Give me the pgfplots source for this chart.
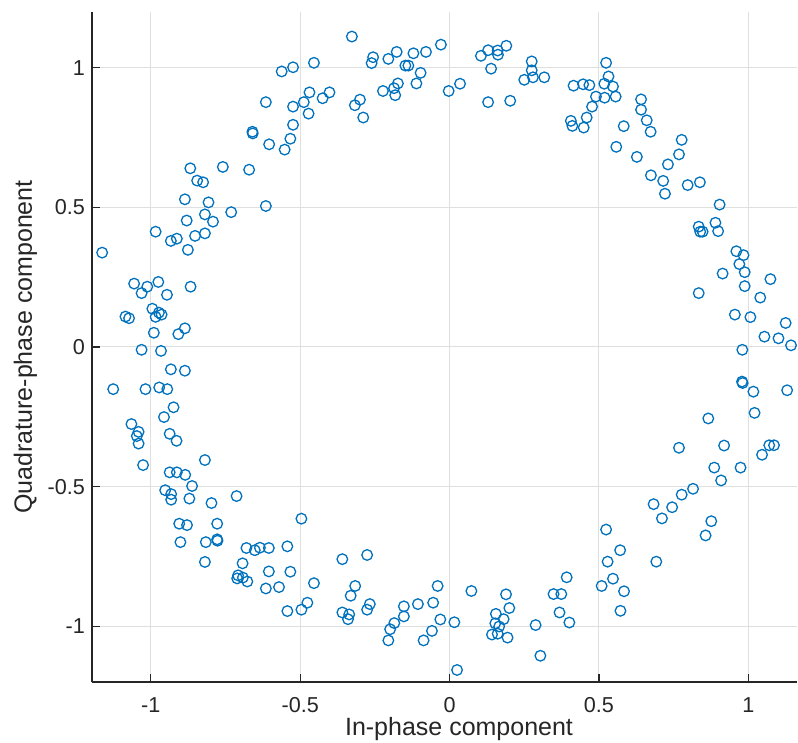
\documentclass[border=0pt]{standalone}
\usepackage{fontspec}
\setmainfont{Liberation Sans}
\usepackage{pgfplots}
\pgfplotsset{compat=1.18}
\definecolor{mblue}{HTML}{0072BD}
\definecolor{axgray}{HTML}{262626}
\definecolor{gridgray}{HTML}{DFDFDF}

\pgfplotstableread{
x y
-0.615 0.877
-0.660 0.771
-0.659 0.765
-0.604 0.726
-0.868 0.640
-0.759 0.645
-0.671 0.635
-0.845 0.596
-0.825 0.590
-0.886 0.529
-0.807 0.518
-0.615 0.505
-0.819 0.475
-0.731 0.483
-0.880 0.453
-0.792 0.449
-0.984 0.413
-0.913 0.388
-0.933 0.380
-0.852 0.398
-0.819 0.407
-0.876 0.348
-1.163 0.338
-1.056 0.227
-1.012 0.216
-0.975 0.233
-1.031 0.193
-0.946 0.187
-0.867 0.216
-0.995 0.137
-0.973 0.123
-0.964 0.116
-0.984 0.108
-1.085 0.109
-1.073 0.103
-0.886 0.067
-0.908 0.046
-0.990 0.051
-1.031 -0.010
-0.966 -0.014
-0.933 -0.080
-0.886 -0.085
-1.126 -0.151
-1.018 -0.151
-0.972 -0.145
-0.945 -0.151
-0.924 -0.216
-0.956 -0.251
-1.065 -0.276
-1.041 -0.304
-1.047 -0.319
-1.041 -0.346
-0.937 -0.311
-0.914 -0.336
-0.819 -0.405
-1.026 -0.423
-0.937 -0.449
-0.913 -0.449
-0.885 -0.458
-0.862 -0.498
-0.952 -0.513
-0.932 -0.527
-0.932 -0.547
-0.871 -0.543
-0.797 -0.559
-0.713 -0.534
-0.905 -0.633
-0.879 -0.638
-0.778 -0.633
-0.901 -0.699
-0.816 -0.699
-0.778 -0.689
-0.777 -0.694
-0.819 -0.770
-0.680 -0.720
-0.652 -0.728
-0.635 -0.719
-0.605 -0.720
-0.693 -0.775
-0.708 -0.818
-0.711 -0.829
-0.692 -0.826
-0.677 -0.840
-0.605 -0.804
-0.615 -0.865
-0.496 -0.615
-0.543 -0.714
-0.533 -0.805
-0.571 -0.860
-0.543 -0.946
-0.496 -0.941
-0.476 -0.916
-0.454 -0.846
-0.359 -0.760
-0.276 -0.745
-0.316 -0.856
-0.331 -0.891
-0.359 -0.951
-0.336 -0.958
-0.340 -0.975
-0.267 -0.921
-0.276 -0.941
-0.153 -0.929
-0.153 -0.965
-0.185 -0.989
-0.199 -1.011
-0.205 -1.051
-0.106 -0.921
-0.055 -0.916
-0.040 -0.856
-0.031 -0.976
-0.059 -1.017
-0.087 -1.051
0.016 -0.986
0.073 -0.874
0.025 -1.157
0.155 -0.956
0.181 -0.975
0.153 -0.990
0.166 -1.001
0.142 -1.030
0.161 -1.027
0.194 -1.041
0.189 -0.886
0.200 -0.935
0.288 -0.996
0.304 -1.106
0.348 -0.885
0.374 -0.885
0.392 -0.825
0.368 -0.951
0.401 -0.987
0.524 -0.654
0.571 -0.728
0.529 -0.769
0.547 -0.830
0.509 -0.856
0.584 -0.875
0.572 -0.945
0.886 -0.432
0.974 -0.432
0.909 -0.478
0.815 -0.508
0.777 -0.529
0.683 -0.563
0.745 -0.574
0.711 -0.614
0.876 -0.624
0.857 -0.675
0.692 -0.769
0.960 0.343
0.984 0.329
0.970 0.297
0.988 0.268
0.914 0.263
1.074 0.243
0.988 0.218
1.040 0.177
0.834 0.193
0.955 0.116
1.007 0.107
1.125 0.086
1.054 0.037
1.101 0.031
1.143 0.006
0.980 -0.010
0.979 -0.124
0.981 -0.129
1.017 -0.160
1.130 -0.155
1.021 -0.236
0.866 -0.256
0.768 -0.361
0.919 -0.353
1.070 -0.352
1.086 -0.352
1.046 -0.386
0.641 0.887
0.641 0.850
0.660 0.812
0.673 0.771
0.583 0.791
0.777 0.742
0.768 0.690
0.731 0.654
0.627 0.681
0.674 0.615
0.715 0.595
0.721 0.549
0.797 0.580
0.838 0.590
0.904 0.510
0.890 0.445
0.834 0.431
0.839 0.413
0.847 0.413
0.899 0.415
-0.327 1.112
-0.562 0.987
-0.524 1.002
-0.454 1.018
-0.256 1.038
-0.261 1.017
-0.205 1.032
-0.177 1.057
-0.121 1.052
-0.079 1.057
-0.029 1.083
-0.148 1.008
-0.138 1.008
-0.097 0.982
-0.111 0.944
-0.173 0.944
-0.186 0.927
-0.182 0.902
-0.223 0.917
-0.469 0.912
-0.402 0.912
-0.425 0.891
-0.488 0.877
-0.524 0.861
-0.472 0.836
-0.300 0.886
-0.317 0.866
-0.289 0.822
-0.524 0.796
-0.533 0.746
-0.552 0.707
-0.003 0.917
0.035 0.943
0.105 1.043
0.129 1.063
0.161 1.062
0.162 1.047
0.190 1.079
0.139 0.997
0.129 0.877
0.203 0.882
0.275 1.023
0.275 0.991
0.250 0.957
0.279 0.966
0.317 0.966
0.415 0.936
0.447 0.941
0.468 0.938
0.524 1.018
0.532 0.969
0.518 0.943
0.547 0.933
0.490 0.897
0.519 0.893
0.556 0.897
0.477 0.861
0.459 0.822
0.406 0.810
0.411 0.792
0.449 0.786
0.558 0.717
}\symbols

\begin{document}
\begin{tikzpicture}
\useasboundingbox (0,0) rectangle (399pt,371.5pt);
\begin{axis}[
    at={(46pt,30.5pt)}, anchor=south west,
    scale only axis,
    width=352.5pt, height=335pt,
    xmin=-1.197, xmax=1.163,
    ymin=-1.2, ymax=1.2,
    axis x line*=bottom, axis y line*=left,
    axis line style={axgray, line width=0.6pt, -},
    tick align=inside,
    major tick length=4pt,
    tick style={axgray, line width=0.6pt},
    xtick={-1,-0.5,0,0.5,1},
    ytick={-1,-0.5,0,0.5,1},
    xticklabels={-1,-0.5,0,0.5,1},
    yticklabels={-1,-0.5,0,0.5,1},
    ticklabel style={font=\fontsize{10.8}{13}\selectfont, text=axgray},
    xticklabel style={yshift=-4.4pt},
    grid=major,
    major grid style={gridgray, line width=0.5pt},
    xlabel={In-phase component},
    ylabel={Quadrature-phase component},
    label style={font=\fontsize{12.5}{15}\selectfont, text=axgray},
    xlabel style={at={(axis description cs:0.5206,0)}, anchor=base, yshift=-27pt},
    ylabel style={at={(axis description cs:0,0.5)}, anchor=base, yshift=30pt},
]
\addplot[only marks, mark=o, mark size=2.65pt, mblue, mark options={line width=0.65pt}] table[x=x, y=y] {\symbols};
\end{axis}
\end{tikzpicture}
\end{document}
